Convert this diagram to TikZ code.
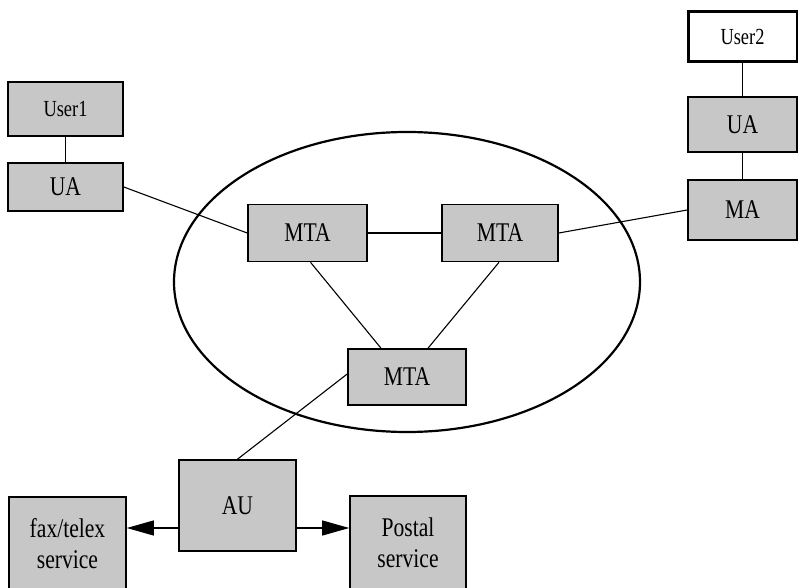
\documentclass[tikz,border=0pt]{standalone}
\usepackage{fontspec}
\setmainfont{Liberation Serif}[FakeStretch=0.8]
\usetikzlibrary{arrows.meta}
\begin{document}
\begin{tikzpicture}[x=1pt, y=1pt]
        \tikzset{
        mhs box/.style={rectangle,draw,line width=1.6pt,fill=black!22,inner sep=0,align=center,font=\fontsize{27}{31}\selectfont},
        mhs user/.style={mhs box,font=\fontsize{23}{27}\selectfont},
        mhs link/.style={line width=1.1pt}
        }
        \useasboundingbox (0,0) rectangle (798,587);
        \draw[line width=2.2pt] (407,305) ellipse [x radius=233, y radius=150];

        \node[mhs user, minimum width=115, minimum height=54] (user1) at (65.5, 478) {User1};
        \node[mhs box, minimum width=115, minimum height=48] (ua1) at (65.5, 400) {UA};
        \node[mhs user, fill=white, line width=3pt, minimum width=109, minimum height=50] (user2) at (742.5, 550) {User2};
        \node[mhs box, minimum width=109, minimum height=55] (ua2) at (742.5, 462.5) {UA};
        \node[mhs box, minimum width=109, minimum height=60] (ma) at (742.5, 377) {MA};
        \node[mhs box, minimum width=119, minimum height=57] (mta1) at (307.5, 354) {MTA};
        \node[mhs box, minimum width=116, minimum height=57] (mta2) at (500, 354) {MTA};
        \node[mhs box, minimum width=118, minimum height=56] (mta3) at (407, 210) {MTA};
        \node[mhs box, minimum width=117, minimum height=91] (au) at (237.5, 81.5) {AU};
        \node[mhs box, minimum width=117, minimum height=94] (fax) at (67.5, 43) {fax/telex\\service};
        \node[mhs box, minimum width=116, minimum height=94] (postal) at (408, 44) {Postal\\service};

        \coordinate (auw) at ([yshift=-22.5pt]au.west);
        \coordinate (aue) at ([yshift=-22.5pt]au.east);

        \path[-,draw,mhs link]
        (user1) edge (ua1)
        (user2) edge (ua2)
        (ua2) edge (ma)
        (ua1.east) edge (mta1.west)
        (mta1) edge (mta2)
        (mta2.east) edge (ma.west)
        ([xshift=3pt]mta1.south) edge ([xshift=-26pt]mta3.north)
        ([xshift=-1pt]mta2.south) edge ([xshift=21pt]mta3.north)
        ([yshift=3pt]mta3.west) edge (au.north)
        ;
        \draw[mhs link,-{Triangle[length=27pt,width=15pt]}] (auw) -- (auw -| fax.east);
        \draw[mhs link,-{Triangle[length=27pt,width=15pt]}] (aue) -- (aue -| postal.west);
    \end{tikzpicture}
\end{document}
